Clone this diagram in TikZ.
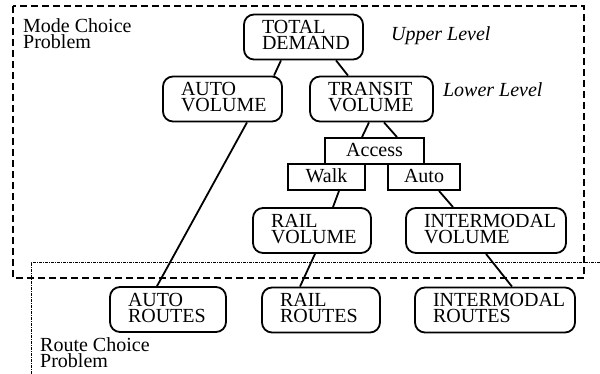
\documentclass[tikz,border=0pt]{standalone}
\usepackage{fontspec}
\setmainfont{Liberation Serif}
\usepackage{tikz}
\usetikzlibrary{positioning}
\hyphenpenalty=10000

\begin{document}
\begin{tikzpicture}[
  x=1pt, y=-1pt,
  box/.style={draw,line width=1.8pt,rounded corners=10pt,align=left,
    inner xsep=18pt,text width=83pt,minimum height=45pt,
    text height=13.2pt,text depth=20pt,font=\fontsize{20}{16}\selectfont},
  sbox/.style={draw,line width=1.8pt,align=center,inner sep=0pt,
    minimum height=26pt,text height=13.5pt,text depth=3pt,font=\fontsize{20}{16}\selectfont},
  lbl/.style={inner sep=0pt,align=left,font=\fontsize{20}{16}\selectfont},
  lvl/.style={inner sep=0pt,font=\fontsize{20}{16}\selectfont\itshape},
  link/.style={line width=1.8pt},
  frame/.style={line width=1.3pt,dash pattern=on 7pt off 4pt},
  dotframe/.style={line width=0.9pt,dash pattern=on 3pt off 1pt on 1pt off 1pt}
]
\useasboundingbox (0,0) rectangle (600,374);
\draw[frame] (13,6) rectangle (584,278);
\draw[dotframe] (600,262) -- (31,262) -- (31,374);
\node[lbl,anchor=north west] (mode) at (23,18) {Mode Choice\\Problem};
\node[lbl,anchor=north west] (route) at (40,337) {Route Choice\\Problem};
\node[box] (total) at (303.5,37) {TOTAL\\DEMAND};
\node[box] (autovol) at (222.5,99) {AUTO\\VOLUME};
\node[box,text width=87pt] (transit) at (371.5,99) {TRANSIT\\VOLUME};
\node[lvl,right=27pt of total.east,anchor=base west,yshift=-4pt] (upper) {Upper Level};
\node[lvl,right=9pt of transit.east,anchor=base west,yshift=2pt] (lower) {Lower Level};
\node[sbox,minimum width=99pt] (access) at (374.5,151) {Access};
\node[sbox,minimum width=77pt] (walk) at (326.5,177) {Walk};
\node[sbox,minimum width=72pt] (autoacc) at (424,177) {Auto};
\node[box,text width=82pt] (railvol) at (312,230.5) {RAIL\\VOLUME};
\node[box,text width=124pt] (intervol) at (486,230.5) {INTERMODAL\\VOLUME};
\node[box,text width=80pt] (autort) at (168,309.5) {AUTO\\ROUTES};
\node[box,text width=82pt] (railrt) at (321,310) {RAIL\\ROUTES};
\node[box,text width=124pt] (interrt) at (495,310) {INTERMODAL\\ROUTES};
\draw[link] ([xshift=-22.5pt]total.south) -- ([xshift=51.5pt]autovol.north);
\draw[link] ([xshift=32.5pt]total.south) -- ([xshift=-23.5pt]transit.north);
\draw[link] ([xshift=-2.5pt]transit.south) -- ([xshift=-12.5pt]access.north);
\draw[link] ([xshift=12.5pt]transit.south) -- ([xshift=22.5pt]access.north);
\draw[link] ([xshift=12.5pt]walk.south) -- ([xshift=21pt]railvol.north);
\draw[link] ([xshift=15pt]autoacc.south) -- ([xshift=-33pt]intervol.north);
\draw[link] ([xshift=24.5pt]autovol.south) -- ([xshift=-11pt]autort.north);
\draw[link] ([xshift=3pt]railvol.south) -- ([xshift=-21pt]railrt.north);
\draw[link] (intervol.south) -- ([xshift=17pt]interrt.north);
\end{tikzpicture}
\end{document}
